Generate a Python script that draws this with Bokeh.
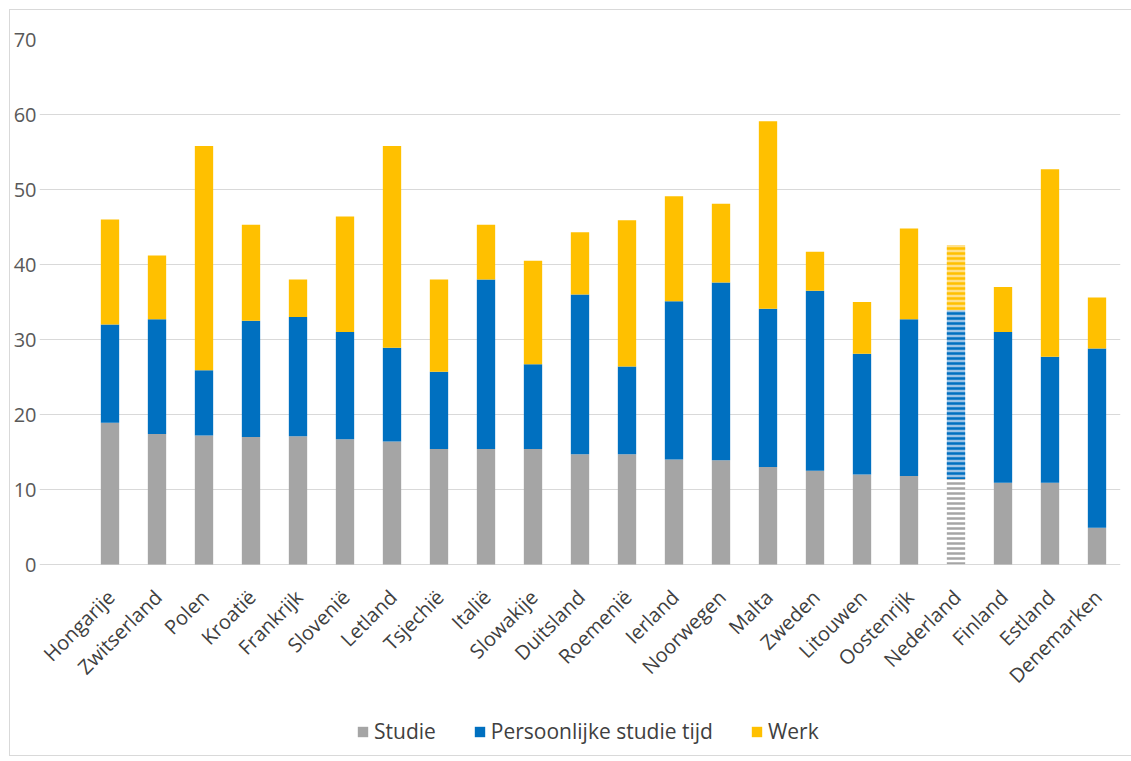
import math
from bokeh.plotting import figure
from bokeh.models import ColumnDataSource, Legend, LegendItem, FixedTicker
from bokeh.core.properties import value
from bokeh.embed import file_html
from bokeh.resources import INLINE

countries = ["Hongarije", "Zwitserland", "Polen", "Kroatië", "Frankrijk", "Slovenië",
             "Letland", "Tsjechië", "Italië", "Slowakije", "Duitsland", "Roemenië",
             "Ierland", "Noorwegen", "Malta", "Zweden", "Litouwen", "Oostenrijk",
             "Nederland", "Finland", "Estland", "Denemarken"]
studie = [18.9, 17.4, 17.2, 17.0, 17.1, 16.7, 16.4, 15.4, 15.4, 15.4, 14.7, 14.7,
          14.0, 13.9, 13.0, 12.5, 12.0, 11.8, 11.4, 10.9, 10.9, 4.9]
persoonlijk = [13.1, 15.3, 8.7, 15.5, 15.9, 14.3, 12.5, 10.3, 22.6, 11.3, 21.3, 11.7,
               21.1, 23.7, 21.1, 24.0, 16.1, 20.9, 22.5, 20.1, 16.8, 23.9]
werk = [14.0, 8.5, 29.9, 12.8, 5.0, 15.4, 26.9, 12.3, 7.3, 13.8, 8.3, 19.5,
        14.0, 10.5, 25.0, 5.2, 6.9, 12.1, 8.7, 6.0, 25.0, 6.8]
series = ["Studie", "Persoonlijke studie tijd", "Werk"]
highlight = "Nederland"
y_ticks = [0, 10, 20, 30, 40, 50, 60, 70]

colors = ["#a5a5a5", "#0070c0", "#ffc000"]
light = ["#ffffff", "#9cc3e6", "#ffe08a"]
FONT = "Open Sans"

def subset(keep):
    idx = [i for i, c in enumerate(countries) if keep(c)]
    return ColumnDataSource(dict(
        country=[countries[i] for i in idx],
        s0=[studie[i] for i in idx],
        s1=[persoonlijk[i] for i in idx],
        s2=[werk[i] for i in idx],
    ))

src_main = subset(lambda c: c != highlight)
src_hl = subset(lambda c: c == highlight)

# plot area: 70 units over 525 px; the frame extends below 0 to hold the
# rotated category labels and the legend, and one empty slot on the left
# leaves room for the first rotated labels
PLOT_H = 525
FRAME_H = 706
y_top = y_ticks[-1]
y_bottom = y_top - FRAME_H * (y_top / PLOT_H)
x_factors = [" "] + countries

p = figure(x_range=x_factors, y_range=(y_bottom, y_top),
           frame_width=1081, frame_height=FRAME_H,
           output_backend="svg", toolbar_location=None,
           min_border_left=25, min_border_right=14, min_border_top=29,
           min_border_bottom=10)
p.styles = {"border": "1px solid #d9d9d9", "margin-left": "9px", "margin-top": "9px"}
p.outline_line_color = None

rs = p.vbar_stack(["s0", "s1", "s2"], x="country", width=0.39, source=src_main,
                  fill_color=colors, line_color=None)
p.vbar_stack(["s0", "s1", "s2"], x="country", width=0.39, source=src_hl,
             fill_color=light, line_color=None,
             hatch_pattern=["-", "-", "-"], hatch_color=colors,
             hatch_scale=[5, 5, 5], hatch_weight=[2.5, 2.5, 2.5])

# category labels (rotated 45°) under the baseline
label_src = ColumnDataSource(dict(country=countries, base=[0] * len(countries)))
p.text(x="country", y="base", text="country", source=label_src,
       angle=math.pi / 4, text_align="right", text_baseline="middle",
       y_offset=29, x_offset=1, text_font=value(FONT), text_font_size="20px",
       text_color="#404040")

p.yaxis.ticker = FixedTicker(ticks=y_ticks)
p.ygrid.grid_line_color = "#d9d9d9"
p.ygrid.grid_line_width = 1
p.xgrid.grid_line_color = None
p.yaxis.axis_line_color = None
p.yaxis.major_tick_line_color = None
p.yaxis.minor_tick_line_color = None
p.yaxis.major_tick_out = 0
p.yaxis.major_label_standoff = 3
p.yaxis.major_label_text_font = FONT
p.yaxis.major_label_text_font_size = "20px"
p.yaxis.major_label_text_color = "#595959"
p.xaxis.visible = False
p.x_range.range_padding = 0

legend = Legend(items=[LegendItem(label=s, renderers=[r]) for s, r in zip(series, rs)],
                orientation="horizontal", location=(317, 0),
                border_line_color=None, background_fill_alpha=0,
                label_text_font=FONT, label_text_font_size="21px",
                label_text_color="#404040", glyph_width=13, glyph_height=13,
                label_standoff=5, spacing=37, padding=4, margin=0)
p.add_layout(legend)

open("out.html", "w").write(file_html(p, INLINE))
